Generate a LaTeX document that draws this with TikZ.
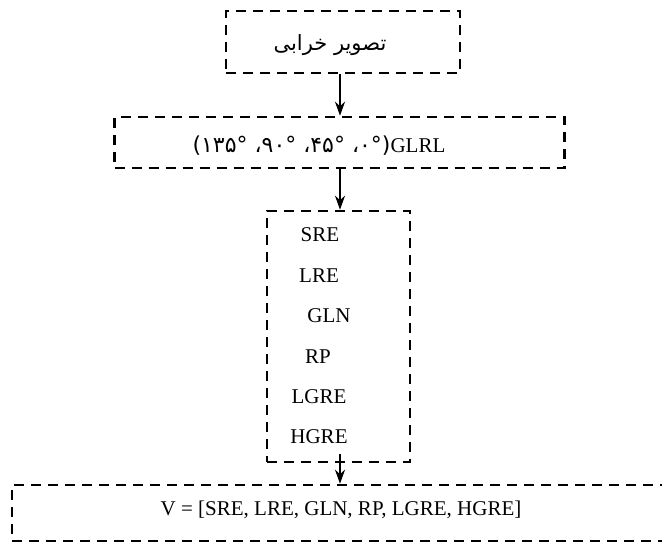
\documentclass[tikz,border=0pt]{standalone}
\usepackage{fontspec}
\setmainfont{Liberation Serif}
\newfontfamily\arabicfont[Script=Arabic]{DejaVu Sans}
\TeXXeTstate=1
\usetikzlibrary{arrows.meta}
\tikzset{
  box/.style={draw, line width=2.6pt, dash pattern=on 10pt off 7pt, inner sep=0pt},
  lbl/.style={font=\fontsize{21}{25}\selectfont, inner sep=0pt},
  fa/.style={font=\arabicfont\fontsize{21}{25}\selectfont, inner sep=0pt},
  flow/.style={line width=2.2pt, -{Stealth[length=14pt,width=10pt]}}
}
\begin{document}
\begin{tikzpicture}[x=1pt,y=-1pt]
\useasboundingbox (0,0) rectangle (662,544);
\clip (0,0) rectangle (662,544);
\coordinate (ax) at (340,0);

% boxes
\node[box, minimum width=234pt, minimum height=62pt] (b1) at (343,42) {};
\node[box, minimum width=450pt, minimum height=51pt] (b2) at (339.5,142.5) {};
\node[box, minimum width=143pt, minimum height=251pt] (b3) at (338.5,336.5) {};
\node[box, minimum width=658pt, minimum height=56pt] (b4) at (341,513) {};

% labels
\node[fa] (t1) at (330,45) {\beginR تصویر خرابی\endR};
\node[lbl] (t2) at (319,146) {\beginR\beginL GLRL\endL{\arabicfont\fontsize{22}{26}\selectfont (۰°، ۴۵°، ۹۰°، ۱۳۵°)}\endR};
\node[lbl] (f1) at (320,235) {SRE};
\node[lbl] (f2) at (319,276) {LRE};
\node[lbl] (f3) at (329,316) {GLN};
\node[lbl] (f4) at (318,357) {RP};
\node[lbl] (f5) at (319,397) {LGRE};
\node[lbl] (f6) at (319,437) {HGRE};
\node[lbl] (t4) at (341,510) {V = [SRE, LRE, GLN, RP, LGRE, HGRE]};

% connectors
\draw[flow] (b1.south -| ax) -- (b2.north -| ax);
\draw[flow] (b2.south -| ax) -- (b3.north -| ax);
\draw[flow] ([yshift=9pt]b3.south -| ax) -- (b4.north -| ax);
\end{tikzpicture}
\end{document}
